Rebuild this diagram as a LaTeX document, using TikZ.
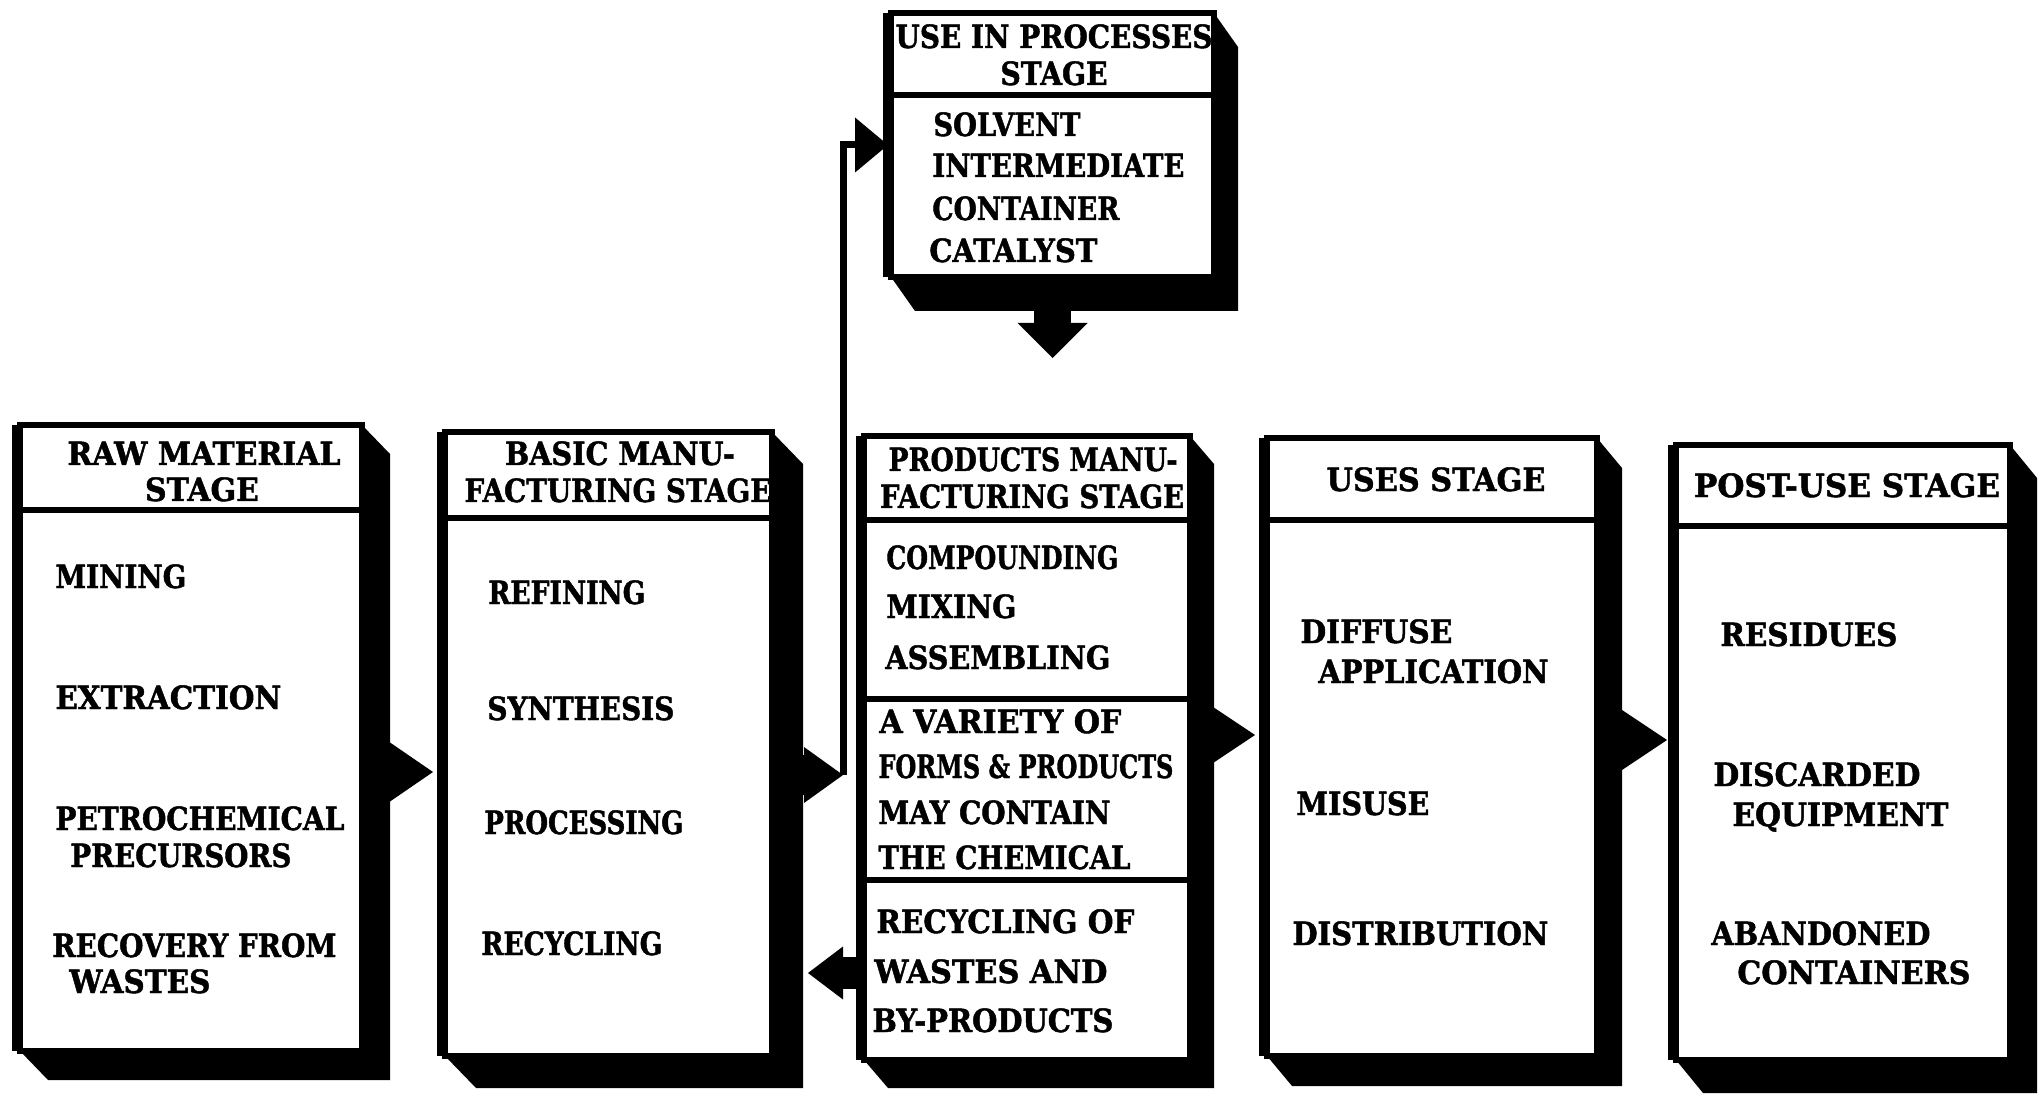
\documentclass[tikz,border=0pt]{standalone}
\usepackage{fontspec}
\setmainfont{DejaVu Serif}[BoldFeatures={FakeBold=1.5}]
\usepackage{graphicx}
\usetikzlibrary{arrows.meta,fit}

% one drawing unit = one pixel of the 2040 x 1096 layout
\newdimen\pxu \pxu=0.5pt

\tikzset{
  slabshadow/.style={fill=black},
  frontface/.style={draw=black, fill=white, line width=3pt, inner sep=0pt},
  leftedge/.style={line width=5pt, line cap=butt},
  dividerline/.style={line width=3pt},
  itemtext/.style={anchor=base west, inner sep=0pt, font=\bfseries\fontsize{16}{19}\selectfont},
  headtext/.style={itemtext, anchor=base},
  blockarrow/.style n args={3}{line width=#1, -{Triangle[length=#2, width=#3, line width=0pt]}},
  connector/.style={line width=3.5pt, -{Triangle[length=16.5pt, width=27.5pt, line width=0pt]}},
}

% #1 name, #2 left, #3 top, #4 right, #5 bottom, #6 depth right, #7 depth down
\newcommand{\stageslab}[7]{%
  \fill[slabshadow] (#4,#3) -- ++(#6,#7) -- (#4+#6,#5+#7) -- (#2+#6,#5+#7) -- (#2,#5) -- cycle;
  \node[frontface, fit={(#2,#3) (#4,#5)}] (#1) {};
  \draw[leftedge] ([yshift=-1.5pt]#1.north west) -- ([yshift=1.5pt]#1.south west);
}
% horizontal rule across a stage box at height #2
\newcommand{\stagerule}[2]{\draw[dividerline] (#1.west |- 0,#2) -- (#1.east |- 0,#2);}
% text lines: #1 name, #2 x, #3 baseline y, #4 set width, #5 text
\newcommand{\stageitem}[5]{\node[itemtext] (#1) at (#2,#3) {\resizebox{#4\pxu}{\height}{#5}};}
\newcommand{\stagehead}[5]{\node[headtext] (#1) at (#2,#3) {\resizebox{#4\pxu}{\height}{#5}};}

\begin{document}
\begin{tikzpicture}[x=0.5pt, y=-0.5pt]
\fill[white] (0,0) rectangle (2040,1096);
\useasboundingbox (0,0) rectangle (2040,1096);

% stage boxes
\stageslab{b1}{20}{425}{362}{1051}{28}{29}
\stagerule{b1}{510}
\stageslab{b2}{445}{432}{772}{1056}{31}{32}
\stagerule{b2}{518}
\stageslab{b3}{864}{436}{1190}{1060}{24}{28}
\stagerule{b3}{520}
\stagerule{b3}{699}
\stagerule{b3}{880}
\stageslab{b4}{891}{13}{1214}{277}{24}{34}
\stagerule{b4}{95}
\stageslab{b5}{1267}{438}{1597}{1056}{25}{30}
\stagerule{b5}{520}
\stageslab{b6}{1676}{445}{2010}{1060}{27}{33}
\stagerule{b6}{526}

% flow arrows
\coordinate (jn) at (843,775);
\draw[blockarrow={20pt}{21.5pt}{29.5pt}, shorten >=4.5pt] (b1.east |- 0,772) -- (b2.west |- 0,772);
\draw[blockarrow={20pt}{19.5pt}{28pt}] (b2.east |- jn) -- (jn);
\draw[connector] (jn) |- (b4.west |- 0,145);
\draw[blockarrow={18.5pt}{17.5pt}{35pt}] (b4.south) -- ++(0,78);
\draw[blockarrow={18.5pt}{21pt}{28pt}, shorten >=4.5pt] (b3.east |- 0,735) -- (b5.west |- 0,735);
\draw[blockarrow={17pt}{22.5pt}{30pt}, shorten >=3pt] (b5.east |- 0,740) -- (b6.west |- 0,740);
\draw[blockarrow={16pt}{17.5pt}{26.5pt}, shorten >=16.5pt] (b3.west |- 0,973) -- (b2.east |- 0,973);

% raw material stage
\stagehead{h1a}{204}{465}{273}{RAW MATERIAL}
\stagehead{h1b}{202}{501}{114}{STAGE}
\stageitem{i1a}{55}{588}{131}{MINING}
\stageitem{i1b}{55}{709}{226}{EXTRACTION}
\stageitem{i1c}{55}{830}{289}{PETROCHEMICAL}
\stageitem{i1d}{70}{867}{221}{PRECURSORS}
\stageitem{i1e}{52}{957}{284}{RECOVERY FROM}
\stageitem{i1f}{69}{993}{141}{WASTES}

% basic manufacturing stage
\stagehead{h2a}{620}{465}{230}{BASIC MANU-}
\stagehead{h2b}{618}{502}{307}{FACTURING STAGE}
\stageitem{i2a}{488}{604}{157}{REFINING}
\stageitem{i2b}{487}{720}{187}{SYNTHESIS}
\stageitem{i2c}{484}{834}{199}{PROCESSING}
\stageitem{i2d}{481}{955}{181}{RECYCLING}

% use in processes stage
\stagehead{h4a}{1054}{48}{317}{USE IN PROCESSES}
\stagehead{h4b}{1054}{85}{107}{STAGE}
\stageitem{i4a}{933}{136}{147}{SOLVENT}
\stageitem{i4b}{932}{177}{252}{INTERMEDIATE}
\stageitem{i4c}{932}{220}{187}{CONTAINER}
\stageitem{i4d}{929}{262}{168}{CATALYST}

% products manufacturing stage
\stagehead{h3a}{1033}{471}{289}{PRODUCTS MANU-}
\stagehead{h3b}{1032}{508}{304}{FACTURING STAGE}
\stageitem{i3a}{886}{569}{232}{COMPOUNDING}
\stageitem{i3b}{886}{618}{130}{MIXING}
\stageitem{i3c}{885}{669}{225}{ASSEMBLING}
\stageitem{i3d}{879}{733}{242}{A VARIETY OF}
\stageitem{i3e}{878}{778}{295}{FORMS \& PRODUCTS}
\stageitem{i3f}{878}{824}{232}{MAY CONTAIN}
\stageitem{i3g}{878}{869}{252}{THE CHEMICAL}
\stageitem{i3h}{876}{933}{258}{RECYCLING OF}
\stageitem{i3i}{874}{983}{233}{WASTES AND}
\stageitem{i3j}{872}{1032}{241}{BY-PRODUCTS}

% uses stage
\stagehead{h5a}{1436}{491}{219}{USES STAGE}
\stageitem{i5a}{1300}{643}{152}{DIFFUSE}
\stageitem{i5b}{1318}{683}{230}{APPLICATION}
\stageitem{i5c}{1296}{815}{133}{MISUSE}
\stageitem{i5d}{1292}{945}{256}{DISTRIBUTION}

% post-use stage
\stagehead{h6a}{1847}{497}{306}{POST-USE STAGE}
\stageitem{i6a}{1720}{646}{177}{RESIDUES}
\stageitem{i6b}{1713}{786}{207}{DISCARDED}
\stageitem{i6c}{1732}{826}{216}{EQUIPMENT}
\stageitem{i6d}{1711}{945}{219}{ABANDONED}
\stageitem{i6e}{1737}{984}{233}{CONTAINERS}
\end{tikzpicture}
\end{document}
